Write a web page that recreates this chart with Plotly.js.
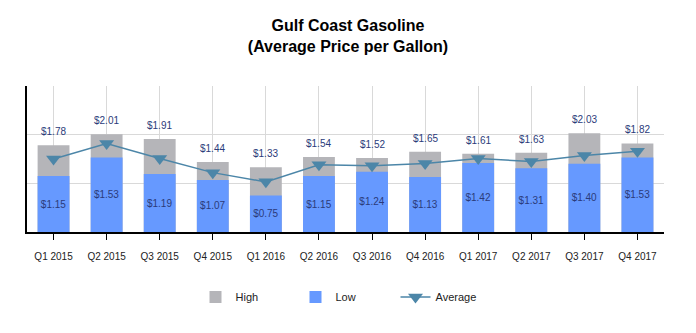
<!DOCTYPE html>
<html>
<head>
<meta charset="utf-8">
<script src="https://cdn.plot.ly/plotly-3.0.1.min.js"></script>
<style>html,body{margin:0;padding:0;background:#fff;}#chart{width:696px;height:333px;}</style>
</head>
<body>
<div id="chart"></div>
<script>
const quarters = ["Q1 2015","Q2 2015","Q3 2015","Q4 2015","Q1 2016","Q2 2016","Q3 2016","Q4 2016","Q1 2017","Q2 2017","Q3 2017","Q4 2017"];
const highVals = [1.78, 2.01, 1.91, 1.44, 1.33, 1.54, 1.52, 1.65, 1.61, 1.63, 2.03, 1.82];
const lowVals  = [1.15, 1.53, 1.19, 1.07, 0.75, 1.15, 1.24, 1.13, 1.42, 1.31, 1.40, 1.53];
const avgVals  = [1.50, 1.82, 1.51, 1.22, 1.03, 1.38, 1.36, 1.41, 1.51, 1.45, 1.57, 1.66];

const FONT = '"Liberation Sans", Arial, sans-serif';
const LABEL = '#2B3B7A';
const fmt = v => '$' + v.toFixed(2);

const traces = [
  {type:'bar', name:'High', x:quarters, y:highVals, width:0.6,
   marker:{color:'#B5B5B9'}, hoverinfo:'skip'},
  {type:'bar', name:'Low', x:quarters, y:lowVals, width:0.6,
   marker:{color:'#6699FF'},
   text:lowVals.map(fmt), textposition:'inside', insidetextanchor:'middle',
   textfont:{family:FONT, size:10, color:LABEL}, constraintext:'none', hoverinfo:'skip'},
  {type:'scatter', mode:'lines+markers', name:'Average', x:quarters, y:avgVals,
   line:{color:'#4C86A8', width:1.5},
   marker:{symbol:'triangle-down', size:13, color:'#4C86A8'}}
];

const annotations = quarters.map((q,i)=>({
  x:q, y:highVals[i], xref:'x', yref:'y', text:fmt(highVals[i]), showarrow:false,
  yanchor:'bottom', yshift:6, font:{family:FONT, size:10, color:LABEL}
}));

const layout = {
  width:696, height:333,
  margin:{l:27, r:32, t:86, b:101},
  paper_bgcolor:'#fff', plot_bgcolor:'#fff',
  font:{family:FONT, size:10, color:'#222'},
  barmode:'overlay',
  showlegend:true,
  title:{text:'<b>Gulf Coast Gasoline<br>(Average Price per Gallon)</b>',
         x:0.5, xref:'container', y:0.907, yref:'container', yanchor:'top',
         font:{family:FONT, size:16, color:'#000'}},
  xaxis:{type:'category', range:[-0.5,11.5], showgrid:true, gridcolor:'#D9D9D9', gridwidth:1,
         showline:true, linecolor:'#000', linewidth:2, ticks:'outside', ticklen:6, tickcolor:'#000',
         ticklabelstandoff:8,
         tickfont:{family:FONT, size:10, color:'#222'}, zeroline:false, fixedrange:true},
  yaxis:{range:[0,3], dtick:1, showgrid:true, gridcolor:'#D9D9D9', gridwidth:1,
         showline:true, linecolor:'#000', linewidth:2, showticklabels:false, ticks:'',
         zeroline:false, fixedrange:true},
  legend:{orientation:'h', x:0.5, xanchor:'center', y:0.108, yref:'container', yanchor:'middle',
          entrywidth:55, entrywidthmode:'pixels', font:{family:FONT, size:11, color:'#222'},
          bgcolor:'rgba(0,0,0,0)'},
  annotations:annotations
};

Plotly.newPlot('chart', traces, layout, {displayModeBar:false, staticPlot:true});
</script>
</body>
</html>
